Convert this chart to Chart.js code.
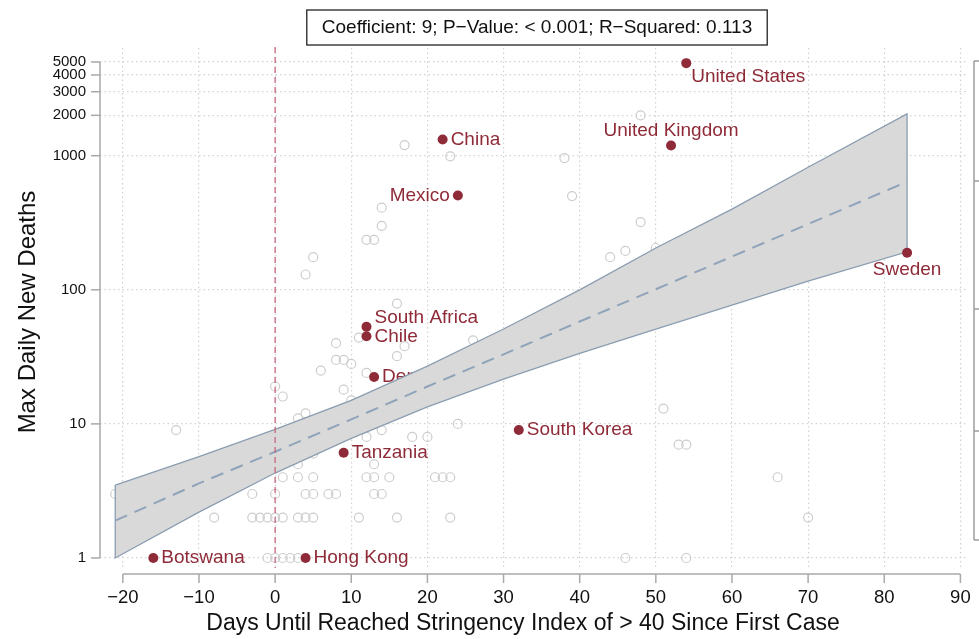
<!DOCTYPE html>
<html lang="en">
<head>
<meta charset="UTF-8">
<title>Max Daily New Deaths vs Days Until Stringency &gt; 40</title>
<style>
  body { margin: 0; background: #fff; }
  #wrap { width: 979px; height: 639px; position: relative; }
</style>
<script src="https://cdn.jsdelivr.net/npm/chart.js@4"></script>
</head>
<body>
<div id="wrap"><canvas id="chart"></canvas></div>
<script>
// labelled countries
const countries = ['United States', 'United Kingdom', 'China', 'Mexico', 'Sweden', 'South Africa',
                   'Chile', 'Denmark', 'Tanzania', 'South Korea', 'Botswana', 'Hong Kong'];
const countryDays = [54, 52, 22, 24, 83, 12, 12, 13, 9, 32, -16, 4];
const countryDeaths = [4900, 1190, 1320, 505, 189, 53, 45, 22.4, 6.1, 9, 1, 1];
// stata style clock position of each label
const labelClock = [4, 12, 3, 9, 6, 2, 3, 3, 3, 3, 3, 3];

// all other countries (hollow circles)
const otherDays = [17, 23, 38, 39, 48, 48, 44, 46, 50,
                   14, 14, 12, 13, 5, 4,
                   16, 8, 11, 17, 16, 26, 8, 9, 10, 6, 12,
                   0, 1, 9, 10, 3, 4, -13,
                   12, 14, 18, 20, 24, 51, 53, 54,
                   5, 3, 13,
                   1, 3, 5, 12, 13, 15, 21, 22, 23, 66,
                   -21, -3, 0, 4, 5, 7, 8, 13, 14,
                   -8, -3, -2, -1, 0, 1, 3, 4, 5, 11, 16, 23, 70,
                   -1, 0, 1, 2, 3, 46, 54];
const otherDeaths = [1200, 990, 960, 500, 2000, 320, 175, 195, 205,
                     410, 300, 236, 236, 175, 130,
                     79, 40, 44, 38, 32, 42, 30, 30, 28, 25, 24,
                     19, 16, 18, 15, 11, 12, 9,
                     8, 9, 8, 8, 10, 13, 7, 7,
                     6, 5, 5,
                     4, 4, 4, 4, 4, 4, 4, 4, 4, 4,
                     3, 3, 3, 3, 3, 3, 3, 3, 3,
                     2, 2, 2, 2, 2, 2, 2, 2, 2, 2, 2, 2, 2,
                     1, 1, 1, 1, 1, 1, 1];

const fitDays = [-21, -10, 0, 10, 20, 30, 40, 50, 60, 70, 83];
const fitMid = [1.9, 3.6, 6.2, 10.8, 19, 33, 58, 101, 177, 309, 640];
const fitUpper = [3.5, 5.7, 9.1, 15, 27, 51, 100, 205, 400, 820, 2050];
const fitLower = [1.0, 2.2, 4.3, 7.8, 13.4, 21.6, 33.5, 51, 77, 116, 192];

const xTicks = [-20, -10, 0, 10, 20, 30, 40, 50, 60, 70, 80, 90];
const yTicks = [1, 10, 100, 1000, 2000, 3000, 4000, 5000];

const statsText = 'Coefficient: 9; P\u2212Value: < 0.001; R\u2212Squared: 0.113';
const xTitle = 'Days Until Reached Stringency Index of > 40 Since First Case';
const yTitle = 'Max Daily New Deaths';

const FONT = '"Liberation Sans", Arial, Helvetica, sans-serif';
const RED = '#8f2b38';
const AXIS = '#a9a9a9';

// dx, dy, align for each clock position
const clockOffset = {
    2: [8, -9, 'left'],
    3: [8, 0, 'left'],
    4: [5, 14, 'left'],
    6: [0, 17, 'center'],
    9: [-8, 0, 'right'],
    12: [0, -15, 'center']
};

function pts(xs, ys) {
    return xs.map((x, i) => ({ x: x, y: ys[i] }));
}

function line(ctx, x1, y1, x2, y2) {
    ctx.beginPath();
    ctx.moveTo(x1, y1);
    ctx.lineTo(x2, y2);
    ctx.stroke();
}

const decor = {
    id: 'decor',
    beforeDatasetsDraw(chart) {
        // labels sit under the band (Denmark gets covered, as in the original)
        const { ctx, scales: { x, y } } = chart;
        ctx.save();
        ctx.font = '19px ' + FONT;
        ctx.fillStyle = RED;
        ctx.textBaseline = 'middle';
        countries.forEach((name, i) => {
            const px = x.getPixelForValue(countryDays[i]);
            const py = y.getPixelForValue(countryDeaths[i]);
            const o = clockOffset[labelClock[i]];
            ctx.textAlign = o[2];
            ctx.fillText(name, px + o[0], py + o[1]);
        });
        ctx.restore();
    },
    afterDatasetsDraw(chart) {
        const { ctx, chartArea: a, scales: { x } } = chart;
        const px = x.getPixelForValue(0);
        ctx.save();
        ctx.strokeStyle = '#c5677c';
        ctx.lineWidth = 1.3;
        ctx.setLineDash([6, 4]);
        line(ctx, px, a.top - 1, px, a.bottom);
        ctx.restore();
    },
    afterDraw(chart) {
        const { ctx, chartArea: a, scales: { x, y } } = chart;
        ctx.save();
        ctx.strokeStyle = AXIS;
        ctx.lineWidth = 1.5;

        // detached x axis
        const axY = a.bottom + 6;
        line(ctx, x.getPixelForValue(xTicks[0]), axY, x.getPixelForValue(xTicks[xTicks.length - 1]), axY);
        xTicks.forEach(v => {
            const px = x.getPixelForValue(v);
            line(ctx, px, axY, px, axY + 9);
        });

        // y axis
        const axX = a.left;
        line(ctx, axX, y.getPixelForValue(yTicks[0]), axX, y.getPixelForValue(yTicks[yTicks.length - 1]));
        yTicks.forEach(v => {
            const py = y.getPixelForValue(v);
            line(ctx, axX - 9, py, axX, py);
        });

        // edge of the neighbouring panel, cut off on the right
        ctx.strokeStyle = '#9c9c9c';
        line(ctx, 974, 61, 974, 540);
        [61, 181, 309, 431, 540].forEach(py => line(ctx, 974, py, 979, py));

        // axis titles
        ctx.fillStyle = '#111';
        ctx.textAlign = 'center';
        ctx.textBaseline = 'middle';
        ctx.font = '23px ' + FONT;
        ctx.fillText(xTitle, 523, 624);
        ctx.save();
        ctx.translate(28, 312);
        ctx.rotate(-Math.PI / 2);
        ctx.font = '24px ' + FONT;
        ctx.fillText(yTitle, 0, 0);
        ctx.restore();

        // stats box
        ctx.font = '19px ' + FONT;
        const w = ctx.measureText(statsText).width + 30;
        const cx = 537;
        ctx.fillStyle = '#fff';
        ctx.fillRect(cx - w / 2, 10, w, 35);
        ctx.strokeStyle = '#222';
        ctx.lineWidth = 1.3;
        ctx.strokeRect(cx - w / 2, 10, w, 35);
        ctx.fillStyle = '#111';
        ctx.fillText(statsText, cx, 28);
        ctx.restore();
    }
};

const bandOutline = pts(fitDays, fitUpper)
    .concat(pts(fitDays, fitLower).reverse())
    .concat([{ x: fitDays[0], y: fitUpper[0] }]);

const ctx = document.getElementById('chart').getContext('2d');
new Chart(ctx, {
    type: 'scatter',
    data: {
        datasets: [
            {
                label: 'Other countries',
                data: pts(otherDays, otherDeaths),
                pointRadius: 4.5,
                pointBorderWidth: 1.2,
                pointBorderColor: '#cdcdcd',
                pointBackgroundColor: 'rgba(0,0,0,0)',
                order: 6
            },
            {
                type: 'line',
                label: 'Upper',
                data: pts(fitDays, fitUpper),
                borderWidth: 0,
                pointRadius: 0,
                fill: '+1',
                backgroundColor: '#d9d9d9',
                order: 5
            },
            {
                type: 'line',
                label: 'Lower',
                data: pts(fitDays, fitLower),
                borderWidth: 0,
                pointRadius: 0,
                fill: false,
                order: 5
            },
            {
                type: 'line',
                label: 'Band edge',
                data: bandOutline,
                borderColor: '#8b9db1',
                borderWidth: 1.3,
                pointRadius: 0,
                fill: false,
                order: 3
            },
            {
                type: 'line',
                label: 'Fit',
                data: pts(fitDays, fitMid),
                borderColor: '#8fa4ba',
                borderWidth: 2,
                borderDash: [13, 8],
                pointRadius: 0,
                fill: false,
                order: 2
            },
            {
                label: 'Labelled',
                data: pts(countryDays, countryDeaths),
                pointRadius: 5,
                pointBorderWidth: 0,
                pointBackgroundColor: RED,
                order: 1
            }
        ]
    },
    options: {
        responsive: true,
        maintainAspectRatio: false,
        animation: false,
        layout: { autoPadding: false, padding: { top: 48, right: 11, left: 0, bottom: 0 } },
        plugins: {
            legend: { display: false },
            tooltip: { enabled: false }
        },
        scales: {
            x: {
                type: 'linear',
                min: -23,
                max: 91,
                afterBuildTicks: s => { s.ticks = xTicks.map(v => ({ value: v })); },
                afterFit: s => { s.height = 71; s.paddingLeft = 0; s.paddingRight = 0; },
                grid: { color: '#d2d2d2', lineWidth: 1.2, drawTicks: false },
                border: { display: false, dash: [1.5, 3] },
                ticks: {
                    padding: 19,
                    color: '#111',
                    font: { family: FONT, size: 18.5 },
                    maxRotation: 0,
                    autoSkip: false,
                    callback: v => v < 0 ? '\u2212' + Math.abs(v) : String(v)
                }
            },
            y: {
                type: 'logarithmic',
                min: 0.842,
                max: 6357,
                afterBuildTicks: s => { s.ticks = yTicks.map(v => ({ value: v })); },
                afterFit: s => { s.width = 100; s.paddingTop = 0; s.paddingBottom = 0; },
                grid: { color: '#d2d2d2', lineWidth: 1.2, drawTicks: false },
                border: { display: false, dash: [1.5, 3] },
                ticks: {
                    padding: 14,
                    color: '#111',
                    font: { family: FONT, size: 15 },
                    autoSkip: false,
                    callback: v => String(v)
                }
            }
        }
    },
    plugins: [decor]
});
</script>
</body>
</html>
